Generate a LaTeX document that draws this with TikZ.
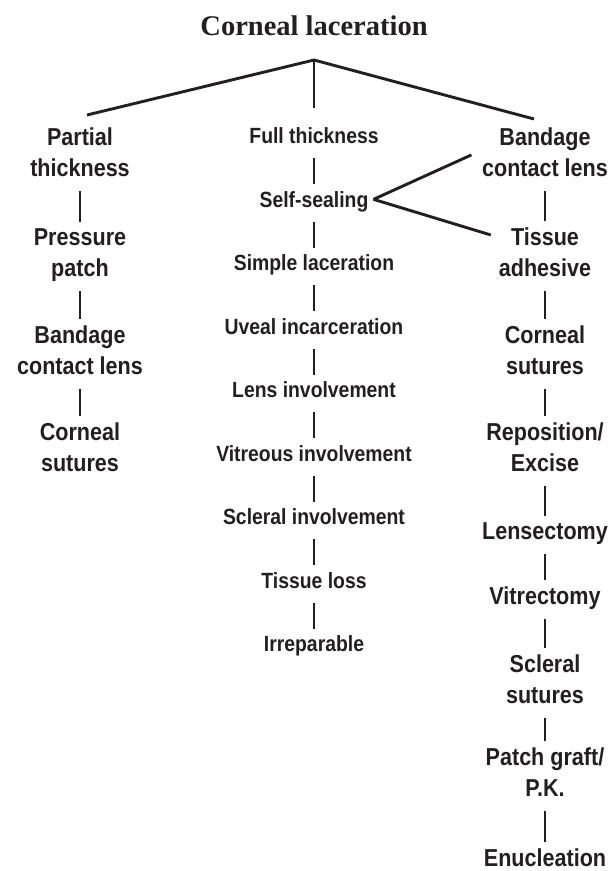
\documentclass[tikz,border=0pt]{standalone}
\usepackage{fontspec}
\setmainfont{Liberation Sans}[FakeStretch=0.88]
\newfontfamily\titlefont{Liberation Serif}
\definecolor{ink}{HTML}{231F20}

\tikzset{
    item/.style={font=\bfseries\fontsize{24.5}{31}\selectfont, align=center, text=ink,
        inner xsep=5pt, inner ysep=0pt, text depth=0pt, anchor=south},
    subitem/.style={item, font=\bfseries\fontsize{22}{25}\selectfont},
    stem/.style={draw=ink, line width=2.9pt},
    link/.style={stem, shorten <=14pt, shorten >=7pt}
}

\begin{document}
\begin{tikzpicture}[x=1pt,y=-1pt]
        \useasboundingbox (0,0) rectangle (613,871);
        \node [anchor=base, text=ink, font=\titlefont\bfseries\fontsize{28.5}{34}\selectfont] (title) at (314,35) {Corneal laceration};
        % three branches from the top
        \coordinate (apex) at (314,60);
        \coordinate (ptend) at (87,115);
        \coordinate (ftend) at (314,108);
        \coordinate (bcend) at (534,119);
        \draw [stem] (ptend) -- (apex) -- (bcend);
        \draw [stem] (apex) -- (ftend);
        % partial thickness
        \node [item] (partial) at (80,177) {Partial\\thickness};
        \node [item] (pressure) at (80,277) {Pressure\\patch};
        \node [item] (bcl) at (80,375) {Bandage\\contact lens};
        \node [item] (cornl) at (80,472) {Corneal\\sutures};
        % full thickness
        \foreach \name/\txt [count=\i from 0] in {full/Full thickness, selfseal/Self-sealing,
            simple/Simple laceration, uveal/Uveal incarceration, lensinv/Lens involvement,
            vitinv/Vitreous involvement, sclinv/Scleral involvement, tisloss/Tissue loss, irrep/Irreparable}
            \node [subitem] (\name) at (314,{144+63.5*\i}) {\txt};
        % treatment
        \node [item] (bcr) at (545,177) {Bandage\\contact lens};
        \node [item] (tissue) at (545,277) {Tissue\\adhesive};
        \node [item] (cornr) at (545,375) {Corneal\\sutures};
        \node [item] (repos) at (545,472) {Reposition/\\Excise};
        \node [item] (lensect) at (545,540) {Lensectomy};
        \node [item] (vitrect) at (545,605) {Vitrectomy};
        \node [item] (sclsut) at (545,704) {Scleral\\sutures};
        \node [item] (patch) at (545,797) {Patch graft/\\P.K.};
        \node [item] (enuc) at (545,867) {Enucleation};
        \foreach \a/\b in {partial/pressure, pressure/bcl, bcl/cornl,
            full/selfseal, selfseal/simple, simple/uveal, uveal/lensinv, lensinv/vitinv,
            vitinv/sclinv, sclinv/tisloss, tisloss/irrep,
            bcr/tissue, tissue/cornr, cornr/repos, repos/lensect, lensect/vitrect,
            vitrect/sclsut, sclsut/patch, patch/enuc}
            \draw [link] (\a) -- (\b);
        \draw [stem, shorten >=6pt] (selfseal.east) -- (bcr.west);
        \draw [stem, shorten >=3pt] (selfseal.east) -- ([yshift=-8pt]tissue.north west);
    \end{tikzpicture}
\end{document}
